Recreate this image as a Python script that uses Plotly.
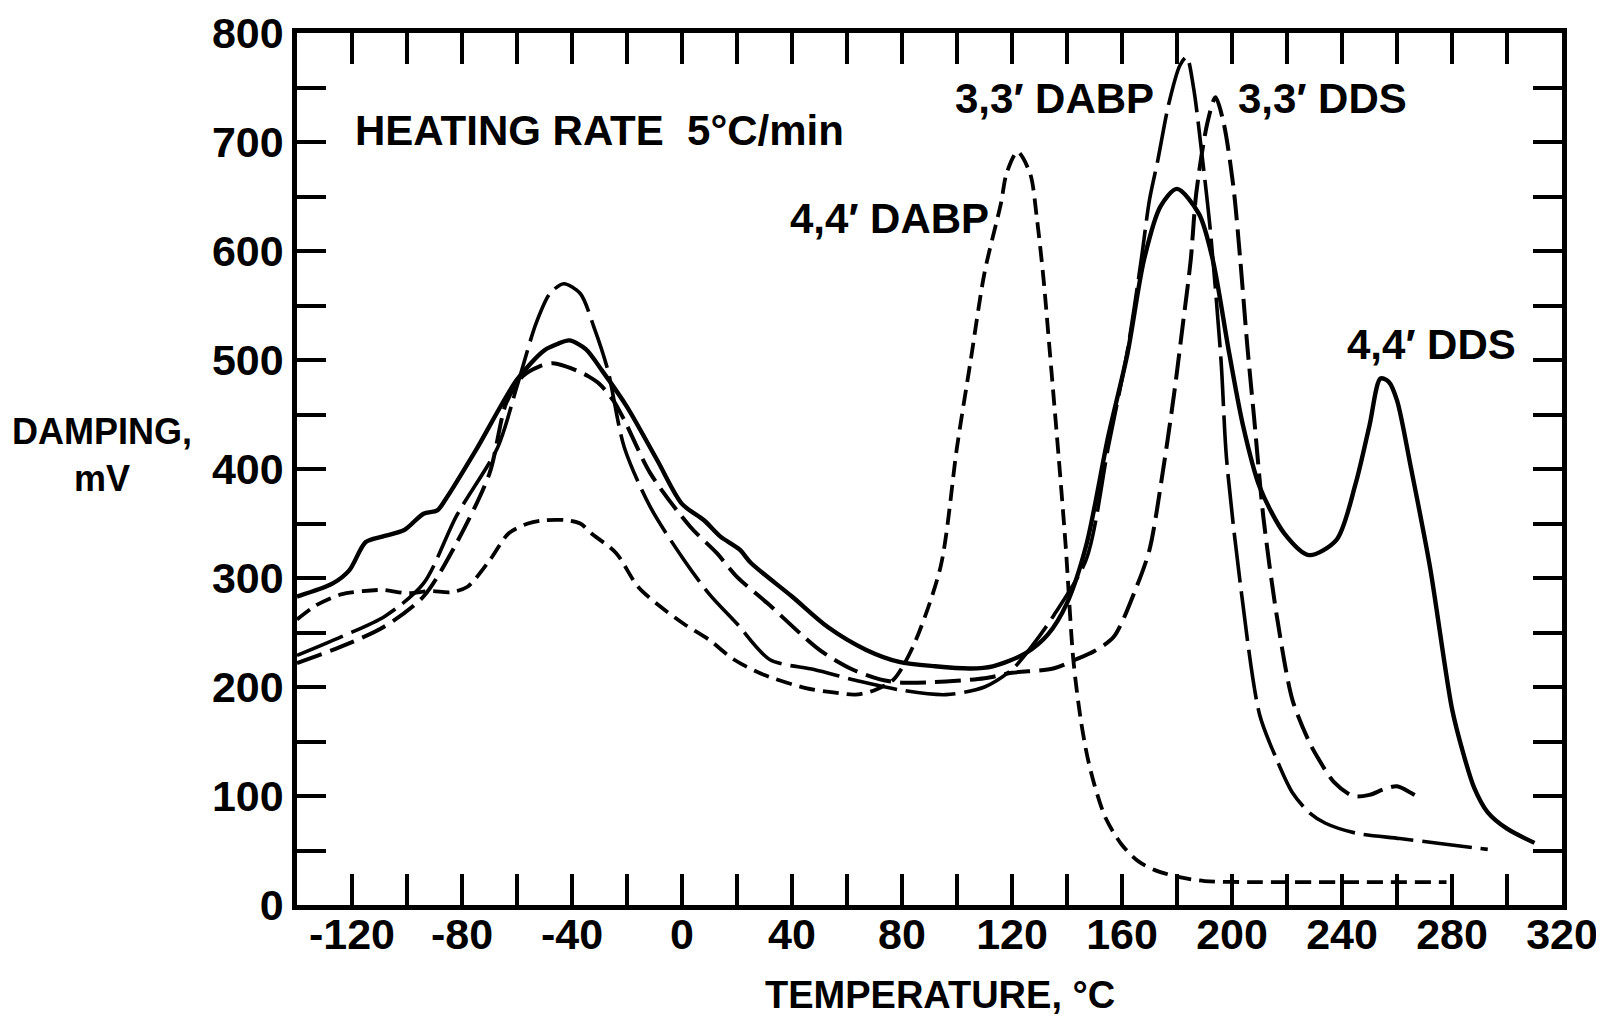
import plotly.graph_objects as go

# ---- data (temperature in deg C, damping in mV) ----
# 4,4' DDS  (solid)
t_dds44 = [-140, -127, -121, -115, -109, -101, -94, -89, -86, -75, -60, -50, -45, -41, -35, -29,
           -20, -9, 0, 8, 14, 21, 25, 40, 53, 67, 79, 92, 105, 113, 125, 133, 140, 147, 155,
           162, 168, 174, 180, 188, 193, 199, 204, 210, 219, 228, 238, 245, 250, 254, 257, 260,
           265, 272, 280, 284, 288, 293, 300, 310]
d_dds44 = [283, 295, 307, 333, 338, 344, 359, 362, 372, 417, 482, 509, 515, 518, 510, 490,
           457, 408, 368, 353, 338, 326, 314, 283, 255, 234, 223, 219, 217, 219, 231, 248, 277,
           330, 430, 506, 592, 641, 657, 634, 592, 506, 440, 384, 341, 321, 335, 387, 440, 483,
           480, 463, 402, 310, 180, 140, 108, 85, 70, 57]

# 3,3' DABP  (long dash)
t_dabp33 = [-140, -124, -108, -94, -82, -67, -60, -53, -48, -43, -37, -32, -27, -21, -11.5, 0.6,
            10, 20, 32, 48, 65, 80, 96, 110, 120, 128, 135, 147, 155, 162, 167, 170, 173, 177,
            181, 183.5, 186, 189, 192, 196, 198, 203, 210, 216, 222, 228, 234, 245, 261, 277, 293]
d_dabp33 = [229, 246, 265, 295, 357, 420, 476, 534, 561, 570, 561, 530, 491, 420, 365, 317,
            285, 258, 225, 216, 205, 197, 193, 200, 216, 240, 265, 317, 420, 509, 592, 647, 683,
            735, 770, 778, 750, 690, 622, 500, 410, 295, 175, 135, 103, 85, 75, 66, 61, 56, 51]

# 3,3' DDS  (medium dash)
t_dds33 = [-140, -124, -108.5, -94, -82, -70, -64, -58, -52, -47, -42, -38, -34, -30, -25, -21,
           -11.5, 3, 12.6, 20, 31, 50, 62, 72, 80, 96, 110, 120, 135, 143, 150, 157, 165, 170,
           175, 179, 182, 185, 187, 191, 194, 197, 200.5, 203, 205.6, 208, 211.4, 216.3, 222,
           228, 231, 237, 244, 250, 255, 260, 265, 269]
d_dds33 = [222, 237, 255, 283, 332, 396, 460, 485, 494, 497, 494, 490, 485, 478, 463, 445,
           396, 347, 323, 301, 277, 234, 216, 207, 204, 205, 208, 213, 217, 225, 233, 246, 290,
           326, 400, 470, 530, 592, 653, 717, 741, 717, 659, 592, 512, 448, 356, 265, 188,
           150, 136, 113, 100, 101, 106, 109, 103, 97]

# 4,4' DABP  (short dash)
t_dabp44 = [-140, -133, -124, -116, -108.5, -100, -91.5, -84, -78, -70, -63, -56, -50, -42, -37,
            -33, -24, -16, -8, 0.6, 10, 19, 30, 45, 55, 63, 70, 77, 84, 94, 100, 105, 110, 116,
            118, 122, 126.6, 129, 131.4, 133.8, 137, 139.5, 142.3, 145, 147.5, 150, 154, 160,
            166, 172, 180, 190, 206, 240, 278]
d_dabp44 = [262, 275, 285, 288, 289, 286, 288, 287, 292, 316, 341, 350, 353, 353, 350,
            341, 323, 292, 274, 258, 243, 225, 211, 199, 195, 193, 197, 207, 237, 310, 420, 500,
            580, 644, 671, 691, 671, 631, 576, 506, 410, 330, 225, 170, 135, 110, 80, 55,
            40, 32, 26, 22, 21, 21, 21]

x_tickvals = [-120, -80, -40, 0, 40, 80, 120, 160, 200, 240, 280, 320]
x_ticktext = ['-120', '-80', '-40', '0', '40', '80', '120', '160', '200', '240', '280', '320']
y_tickvals = [0, 100, 200, 300, 400, 500, 600, 700, 800]

FONT = 'Liberation Sans, Arial, sans-serif'

fig = go.Figure()

fig.add_trace(go.Scatter(x=t_dabp44, y=d_dabp44, mode='lines', name="4,4' DABP",
                         line=dict(color='black', width=3.8, dash='16px,8px', shape='spline', smoothing=0.8)))
fig.add_trace(go.Scatter(x=t_dds33, y=d_dds33, mode='lines', name="3,3' DDS",
                         line=dict(color='black', width=4, dash='26px,9px', shape='spline', smoothing=0.8)))
fig.add_trace(go.Scatter(x=t_dabp33, y=d_dabp33, mode='lines', name="3,3' DABP",
                         line=dict(color='black', width=3.6, dash='50px,9px', shape='spline', smoothing=0.8)))
fig.add_trace(go.Scatter(x=t_dds44, y=d_dds44, mode='lines', name="4,4' DDS",
                         line=dict(color='black', width=4.4, shape='spline', smoothing=0.8)))

# curve labels
labels = [
    ('HEATING RATE  5°C/min', -119.5, 711),
    ('3,3′ DABP', 98.7, 740),
    ('3,3′ DDS', 201.4, 740),
    ('4,4′ DABP', 38.5, 630),
    ('4,4′ DDS', 241.2, 514),
]
for txt, lx, ly in labels:
    fig.add_annotation(x=lx, y=ly, text=txt, showarrow=False, xanchor='left', yanchor='middle',
                       font=dict(family=FONT, size=42, color='black', weight='bold'))

# axis titles
fig.add_annotation(x=93.9, xref='x', y=-0.103, yref='paper', text='TEMPERATURE, °C',
                   showarrow=False, xanchor='center', yanchor='middle',
                   font=dict(family=FONT, size=38, color='black', weight='bold'))
fig.add_annotation(x=-0.154, xref='paper', y=0.516, yref='paper', text='DAMPING,<br>mV',
                   showarrow=False, xanchor='center', yanchor='middle', align='center',
                   font=dict(family=FONT, size=36, color='black', weight='bold'))

axis_font = dict(family=FONT, size=43, color='black', weight='bold')

fig.update_xaxes(range=[-140, 320], tickvals=x_tickvals, ticktext=x_ticktext,
                 ticks='inside', ticklen=31, tickwidth=3.5, tickcolor='black',
                 minor=dict(dtick=20, tick0=-140, ticks='inside', ticklen=31, tickwidth=3.5,
                            tickcolor='black', showgrid=False),
                 showline=True, linewidth=4.5, linecolor='black', mirror='ticks',
                 showgrid=False, zeroline=False, tickfont=axis_font, automargin=False,
                 ticklabelstandoff=-12)
fig.update_yaxes(range=[0, 800], tickvals=y_tickvals,
                 ticks='inside', ticklen=29, tickwidth=3.5, tickcolor='black',
                 minor=dict(dtick=50, tick0=0, ticks='inside', ticklen=29, tickwidth=3.5,
                            tickcolor='black', showgrid=False),
                 showline=True, linewidth=4.5, linecolor='black', mirror='ticks',
                 showgrid=False, zeroline=False, tickfont=axis_font, automargin=False)

# the page body adds an 8px offset, so the margins are shifted to compensate
fig.update_layout(width=1604, height=1020, showlegend=False,
                  paper_bgcolor='white', plot_bgcolor='white',
                  margin=dict(l=289, r=50, t=25, b=123, autoexpand=False))

fig.write_html('out.html')
